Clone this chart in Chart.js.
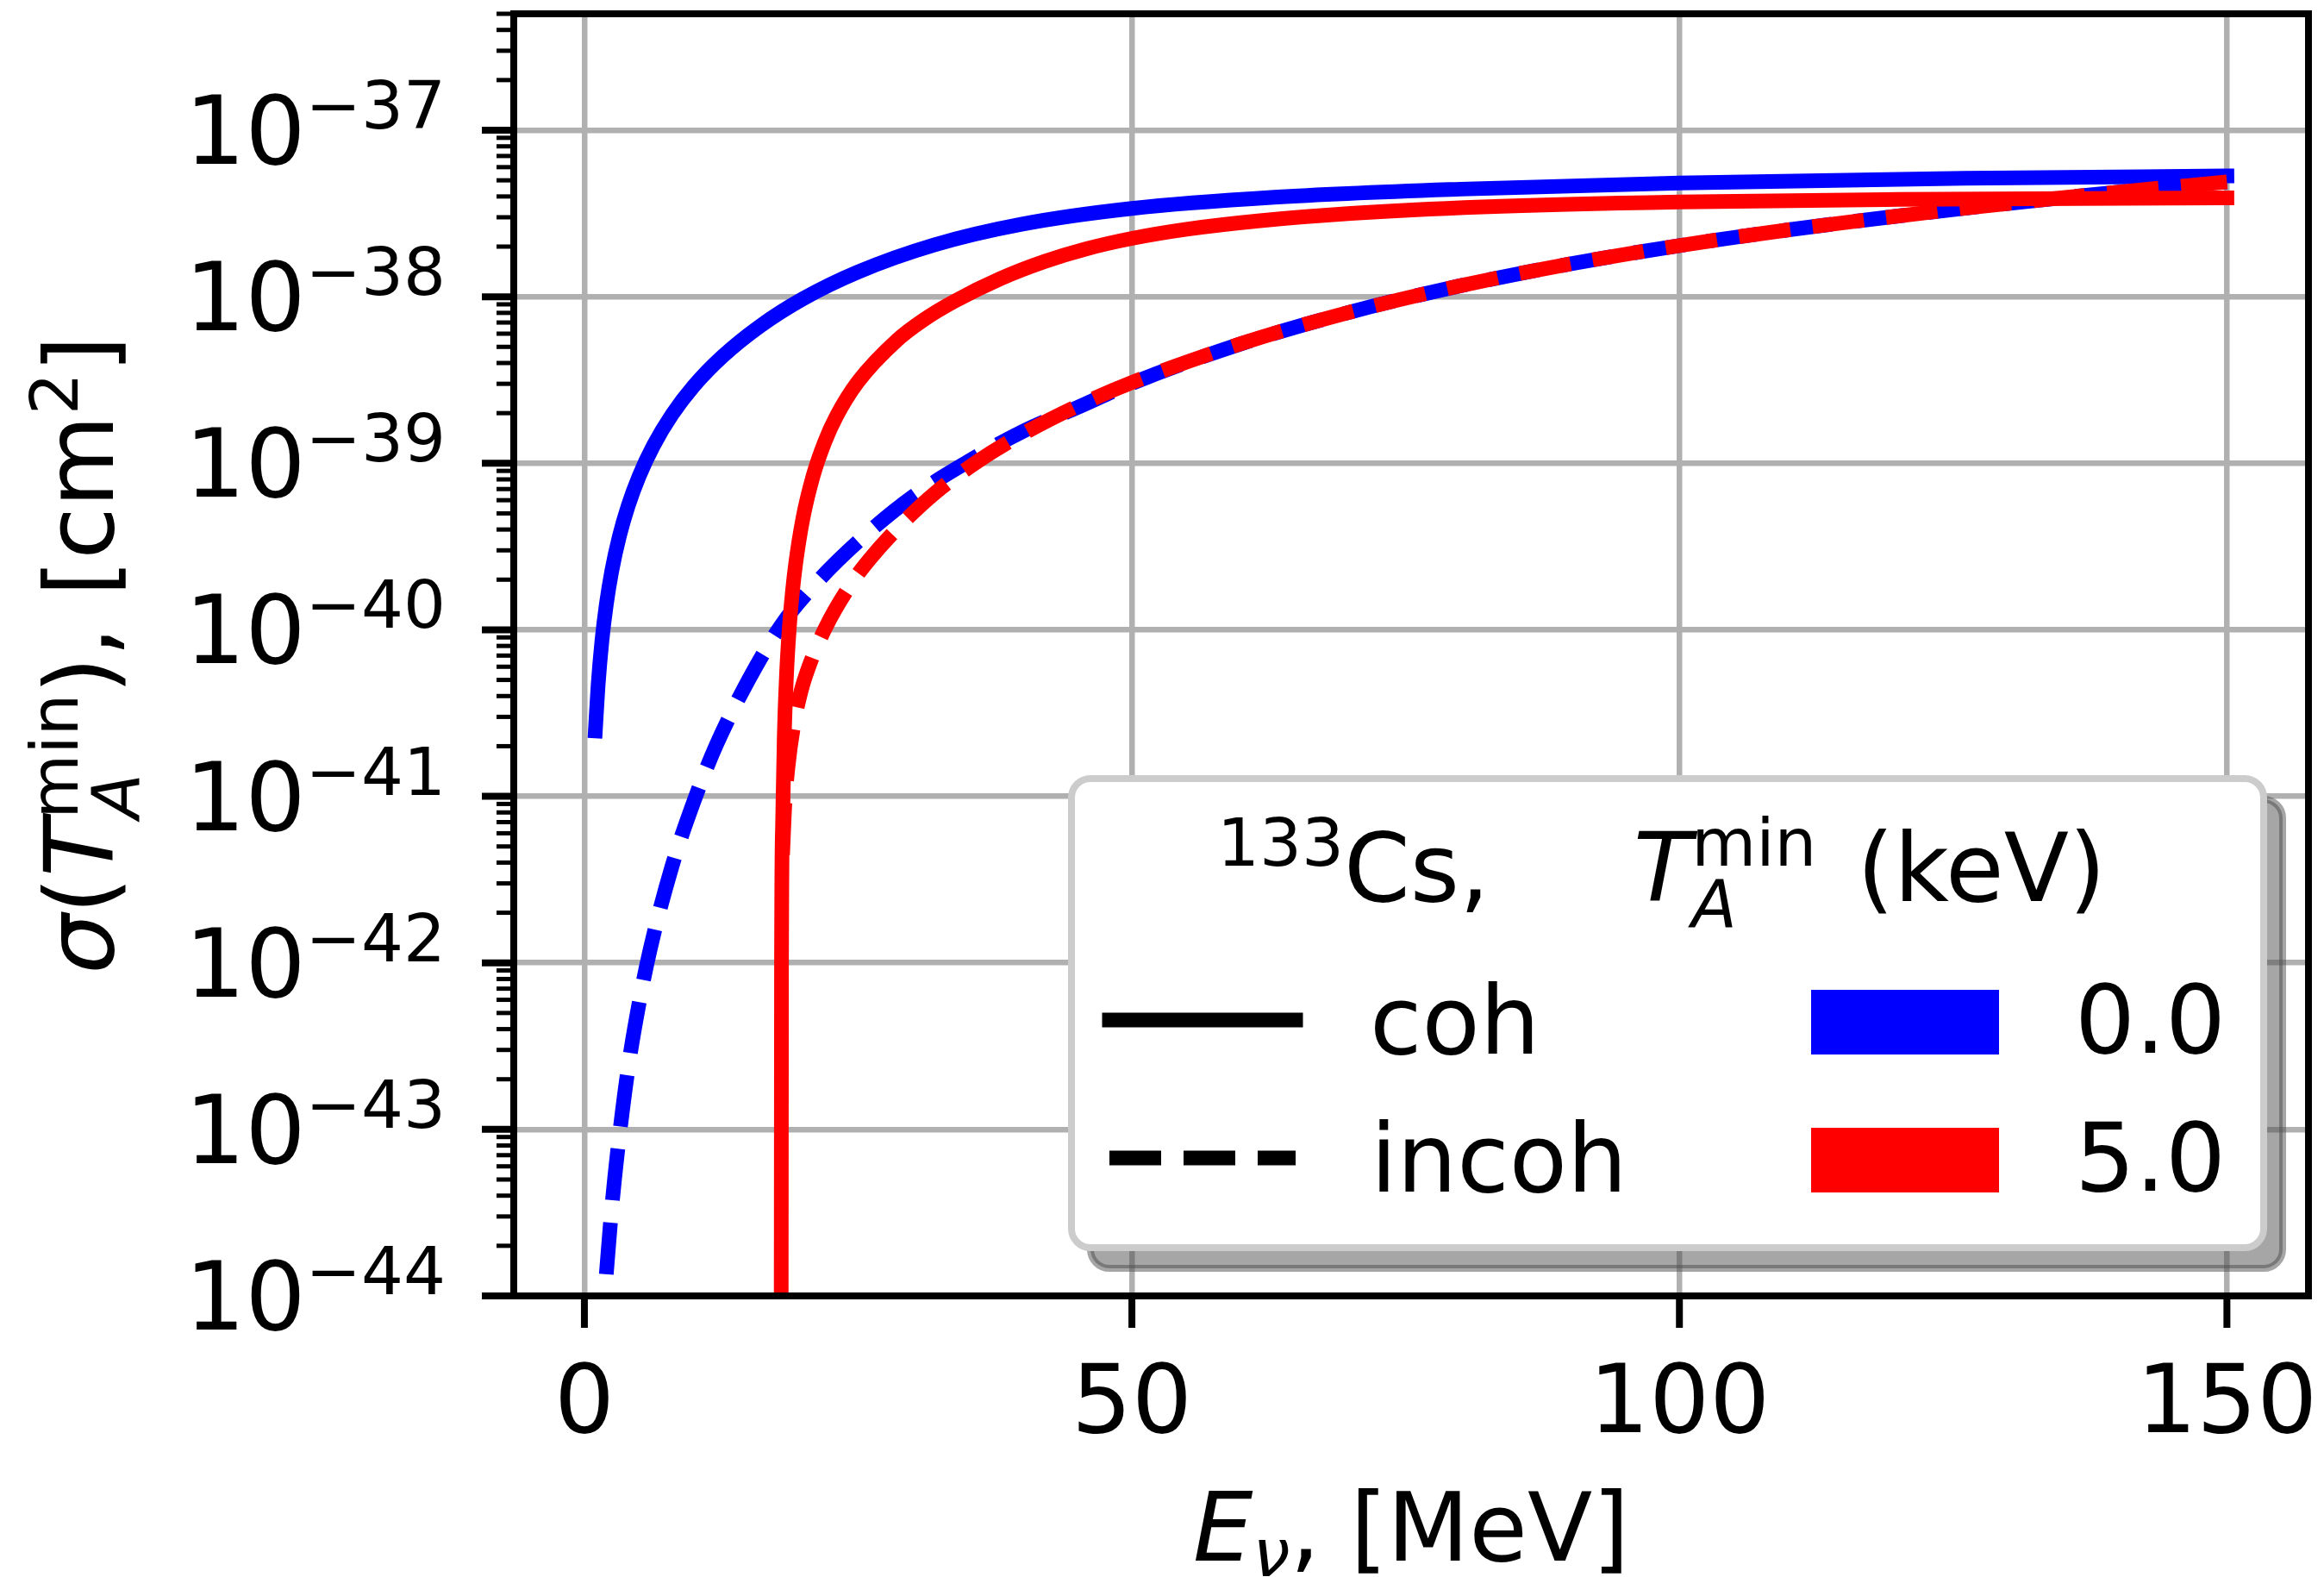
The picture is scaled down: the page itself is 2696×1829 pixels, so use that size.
<!DOCTYPE html>
<html>
<head>
<meta charset="utf-8">
<script src="https://cdn.jsdelivr.net/npm/chart.js@4.4.0/dist/chart.umd.min.js"></script>
<style>
  html, body { margin: 0; padding: 0; background: #fff; }
  canvas { display: block; }
</style>
</head>
<body>
<canvas id="chart" width="2696" height="1829"></canvas>
<script>
// Neutrino energy (MeV) and cross section (cm^2)
const energyCoh0 = [1, 1.25, 1.6, 2, 2.5, 3.2, 4, 5, 6.3, 8, 10, 12.6, 16, 20, 25, 32, 40, 50, 63, 80, 100, 126, 150]
const sigmaCoh0 = [2.472e-41, 4.624e-41, 8.57e-41, 1.416e-40, 2.254e-40, 3.656e-40, 5.559e-40, 8.375e-40, 1.274e-39, 1.959e-39, 2.917e-39, 4.375e-39, 6.637e-39, 9.75e-39, 1.409e-38, 2.051e-38, 2.729e-38, 3.388e-38, 3.954e-38, 4.426e-38, 4.819e-38, 5.14e-38, 5.309e-38]

const energyCoh5 = [17.95, 18.0, 18.1, 18.25, 18.45, 18.7, 19.0, 19.3, 19.95, 20.9, 21.95, 23, 24.95, 28.6, 30.95, 33.8, 38, 42, 45.8, 50, 55, 61.7, 70, 82, 100, 120, 150]
const sigmaCoh5 = [1e-46, 8.913e-43, 6.761e-42, 2.228e-41, 5.2e-41, 1.0e-40, 1.694e-40, 2.512e-40, 4.645e-40, 8.453e-40, 1.343e-39, 1.905e-39, 3.062e-39, 5.521e-39, 7.244e-39, 9.397e-39, 1.285e-38, 1.626e-38, 1.936e-38, 2.239e-38, 2.541e-38, 2.858e-38, 3.162e-38, 3.459e-38, 3.707e-38, 3.837e-38, 3.926e-38]

const energyIncoh0 = [2, 2.5, 3, 4, 5, 6, 8, 10, 12, 15, 18, 21, 25, 30, 35, 40, 45, 50, 60, 70, 80, 90, 100, 110, 120, 130, 140, 150]
const sigmaIncoh0 = [1.35e-44, 3.39e-44, 7.08e-44, 2.34e-43, 5.75e-43, 1.20e-42, 3.80e-42, 9.33e-42, 2.0e-41, 5.01e-41, 1.07e-40, 1.86e-40, 3.39e-40, 6.31e-40, 1.02e-39, 1.55e-39, 2.16e-39, 3.02e-39, 5.224e-39, 8.110e-39, 1.164e-38, 1.574e-38, 2.028e-38, 2.523e-38, 3.055e-38, 3.631e-38, 4.246e-38, 4.887e-38]

const energyIncoh5 = [18.1, 18.3, 18.6, 19.1, 19.8, 20.5, 22, 24.4, 26, 28.7, 32, 36, 40, 45, 50, 60, 70, 80, 90, 100, 110, 120, 130, 140, 150]
const sigmaIncoh5 = [4.457e-42, 8.831e-42, 1.517e-41, 2.636e-41, 4.315e-41, 6.012e-41, 1.023e-40, 1.905e-40, 2.630e-40, 4.140e-40, 6.607e-40, 1.035e-39, 1.496e-39, 2.203e-39, 3.055e-39, 5.236e-39, 8.110e-39, 1.164e-38, 1.574e-38, 2.028e-38, 2.523e-38, 3.055e-38, 3.631e-38, 4.246e-38, 4.887e-38]

// axis ticks
const xTickValues = [0, 50, 100, 150]
const yTickExponents = [-44, -43, -42, -41, -40, -39, -38, -37]

// legend content
const legendStyleLabels = ["coh", "incoh"]
const legendThresholds = ["0.0", "5.0"]
const BLUE = "#0000ff"
const RED = "#ff0000"

const FONT = '"DejaVu Sans"'
const font = (size, italic) => (italic ? "italic " : "") + size + "px " + FONT

function toPoints(xs, ys) {
  return xs.map((x, i) => ({ x, y: ys[i] }))
}

// draw a run of text pieces, sub/superscripts carry a dy; "stack" pieces share one x
function pieceWidth(ctx, p) {
  if (p.stack) return Math.max(...p.stack.map(q => pieceWidth(ctx, q)))
  ctx.font = font(p.size, p.it)
  return ctx.measureText(p.t).width + (p.gap || 0)
}
function runWidth(ctx, pieces) {
  return pieces.reduce((w, p) => w + pieceWidth(ctx, p), 0)
}
function drawRun(ctx, pieces, x, y) {
  pieces.forEach(p => {
    if (p.stack) {
      p.stack.forEach(q => drawRun(ctx, [q], x, y))
    } else {
      ctx.font = font(p.size, p.it)
      ctx.fillText(p.t, x + (p.gap || 0), y + (p.dy || 0))
    }
    x += pieceWidth(ctx, p)
  })
  return x
}

function seg(ctx, x1, y1, x2, y2, w) {
  ctx.lineWidth = w
  ctx.beginPath()
  ctx.moveTo(x1, y1)
  ctx.lineTo(x2, y2)
  ctx.stroke()
}

function roundRectPath(ctx, x, y, w, h, r) {
  ctx.beginPath()
  ctx.moveTo(x + r, y)
  ctx.lineTo(x + w - r, y)
  ctx.arcTo(x + w, y, x + w, y + r, r)
  ctx.lineTo(x + w, y + h - r)
  ctx.arcTo(x + w, y + h, x + w - r, y + h, r)
  ctx.lineTo(x + r, y + h)
  ctx.arcTo(x, y + h, x, y + h - r, r)
  ctx.lineTo(x, y + r)
  ctx.arcTo(x, y, x + r, y, r)
  ctx.closePath()
}

const BIG = 110
const SMALL = 77

const decorPlugin = {
  id: "decor",
  afterDraw(chart) {
    const { ctx, chartArea: a, scales: { x, y } } = chart
    ctx.save()
    ctx.setLineDash([])
    ctx.strokeStyle = "#000"
    ctx.fillStyle = "#000"

    // spines
    ctx.lineWidth = 8
    ctx.strokeRect(a.left, a.top, a.right - a.left, a.bottom - a.top)

    // tick marks
    ctx.lineCap = "butt"
    x.ticks.forEach(t => {
      const px = x.getPixelForValue(t.value)
      seg(ctx, px, a.bottom, px, a.bottom + 37, 8)
    })
    y.ticks.forEach(t => {
      const py = y.getPixelForValue(t.value)
      if (t.mj) seg(ctx, a.left - 37, py, a.left, py, 8)
      else seg(ctx, a.left - 20, py, a.left, py, 5)
    })

    // x tick labels
    ctx.textBaseline = "alphabetic"
    ctx.textAlign = "center"
    ctx.font = font(BIG)
    x.ticks.forEach(t => ctx.fillText(String(t.value), x.getPixelForValue(t.value), a.bottom + 158))

    // y tick labels 10^n
    ctx.textAlign = "left"
    y.ticks.filter(t => t.mj).forEach(t => {
      const py = y.getPixelForValue(t.value)
      const pieces = [
        { t: "10", size: BIG },
        { t: "\u2212" + Math.abs(t.exp), size: SMALL, dy: -41 }
      ]
      const w = runWidth(ctx, pieces)
      drawRun(ctx, pieces, a.left - 79 - w, py + 39)
    })

    // x axis title
    const xTitle = [
      { t: "E", size: BIG, it: true },
      { t: "\u03bd", size: SMALL, it: true, dy: 18 },
      { t: ", [MeV]", size: BIG }
    ]
    drawRun(ctx, xTitle, (a.left + a.right) / 2 - runWidth(ctx, xTitle) / 2, a.bottom + 307)

    // y axis title, rotated
    const yTitle = [
      { t: "\u03c3", size: BIG, it: true },
      { t: "(", size: BIG },
      { t: "T", size: BIG, it: true },
      { stack: [{ t: "A", size: SMALL, it: true, dy: 30 }, { t: "min", size: SMALL, dy: -41 }] },
      { t: "), [cm", size: BIG },
      { t: "2", size: SMALL, dy: -41 },
      { t: "]", size: BIG }
    ]
    ctx.save()
    ctx.translate(131, (a.top + a.bottom) / 2)
    ctx.rotate(-Math.PI / 2)
    drawRun(ctx, yTitle, -runWidth(ctx, yTitle) / 2, 0)
    ctx.restore()

    // legend box with shadow
    const bx = 1243, by = 903, bw = 1383, bh = 544
    ctx.fillStyle = "rgba(77,77,77,0.5)"
    ctx.strokeStyle = "rgba(77,77,77,0.5)"
    ctx.lineWidth = 8
    roundRectPath(ctx, bx + 22, by + 24, bw, bh, 22)
    ctx.fill()
    ctx.stroke()
    ctx.fillStyle = "#fff"
    ctx.strokeStyle = "#cccccc"
    roundRectPath(ctx, bx, by, bw, bh, 22)
    ctx.fill()
    ctx.stroke()

    ctx.fillStyle = "#000"
    drawRun(ctx, [{ t: "133", size: SMALL, dy: -41 }, { t: "Cs,", size: BIG }], bx + 169, by + 142)
    drawRun(ctx, [
      { t: "T", size: BIG, it: true },
      { stack: [{ t: "A", size: SMALL, it: true, dy: 30 }, { t: "min", size: SMALL, dy: -41 }] },
      { t: " (keV)", size: BIG, gap: 12 }
    ], bx + 652, by + 142)

    // line-style handles
    ctx.strokeStyle = "#000"
    ctx.lineCap = "square"
    seg(ctx, bx + 44, by + 280, bx + 260, by + 280, 17)
    ctx.lineCap = "butt"
    ctx.setLineDash([60, 26])
    seg(ctx, bx + 44, by + 440, bx + 260, by + 440, 17)
    ctx.setLineDash([])
    ctx.font = font(BIG)
    ctx.fillText(legendStyleLabels[0], bx + 346, by + 319)
    ctx.fillText(legendStyleLabels[1], bx + 347, by + 479)

    // colour handles
    ctx.fillStyle = BLUE
    ctx.fillRect(bx + 858, by + 245, 218, 75)
    ctx.fillStyle = RED
    ctx.fillRect(bx + 858, by + 405, 218, 75)
    ctx.fillStyle = "#000"
    ctx.fillText(legendThresholds[0], bx + 1164, by + 318)
    ctx.fillText(legendThresholds[1], bx + 1164, by + 478)

    ctx.restore()
  }
}

const lineStyle = {
  borderWidth: 17,
  pointRadius: 0,
  fill: false,
  cubicInterpolationMode: "monotone",
  borderJoinStyle: "round",
  clip: 0
}

new Chart(document.getElementById("chart"), {
  type: "line",
  data: {
    datasets: [
      { ...lineStyle, label: "incoh 5.0", data: toPoints(energyIncoh5, sigmaIncoh5), borderColor: RED, borderDash: [60, 26], borderCapStyle: "butt", order: 0 },
      { ...lineStyle, label: "coh 5.0", data: toPoints(energyCoh5, sigmaCoh5), borderColor: RED, borderCapStyle: "square", order: 1 },
      { ...lineStyle, label: "incoh 0.0", data: toPoints(energyIncoh0, sigmaIncoh0), borderColor: BLUE, borderDash: [60, 26], borderCapStyle: "butt", order: 2 },
      { ...lineStyle, label: "coh 0.0", data: toPoints(energyCoh0, sigmaCoh0), borderColor: BLUE, borderCapStyle: "square", order: 3 }
    ]
  },
  options: {
    responsive: false,
    animation: false,
    devicePixelRatio: 1,
    layout: { padding: { left: 0, top: 16, right: 18, bottom: 0 } },
    plugins: { legend: { display: false }, tooltip: { enabled: false } },
    scales: {
      x: {
        type: "linear",
        min: -6.45,
        max: 157.45,
        afterBuildTicks: s => { s.ticks = xTickValues.map(v => ({ value: v, mj: true })) },
        afterFit: s => { s.height = 326 },
        ticks: { display: false },
        border: { display: false },
        grid: { color: "#b0b0b0", lineWidth: 6.5, drawTicks: false }
      },
      y: {
        type: "logarithmic",
        min: 1e-44,
        max: 5e-37,
        afterBuildTicks: s => {
          const ticks = []
          yTickExponents.forEach(n => {
            ticks.push({ value: Math.pow(10, n), mj: true, exp: n })
            for (let k = 2; k <= 9; k++) {
              const v = k * Math.pow(10, n)
              if (v <= s.max * 1.0001) ticks.push({ value: v, mj: false })
            }
          })
          s.ticks = ticks
        },
        afterFit: s => { s.width = 596 },
        ticks: { display: false },
        border: { display: false },
        grid: {
          color: c => (c.tick && c.tick.mj ? "#b0b0b0" : "rgba(0,0,0,0)"),
          lineWidth: 6.5,
          drawTicks: false
        }
      }
    }
  },
  plugins: [decorPlugin]
})
</script>
</body>
</html>
